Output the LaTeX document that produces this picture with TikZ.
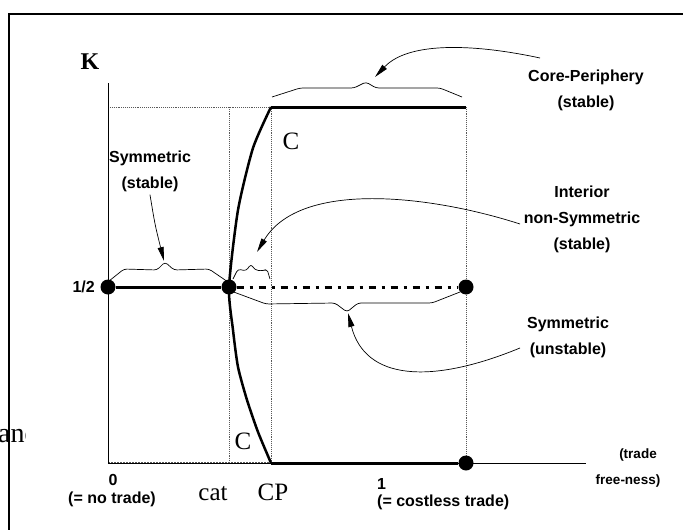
\documentclass[tikz,border=0pt]{standalone}
\usepackage{fontspec}
\setmainfont{Liberation Serif}
\setsansfont{Liberation Sans}
\usetikzlibrary{arrows.meta}

\begin{document}
\begin{tikzpicture}
  [x=1pt,y=-1pt,
   lbl/.style={font=\sffamily\bfseries\fontsize{16}{26}\selectfont,align=center,inner sep=0pt},
   small/.style={font=\sffamily\bfseries\fontsize{13.5}{16}\selectfont,inner sep=0pt},
   serif/.style={font=\fontsize{25}{28}\selectfont,inner sep=0pt},
   eq/.style={circle,fill=black,inner sep=0pt,minimum size=15pt},
   guide/.style={densely dotted,gray!70!black,line width=0.9pt},
   heavy/.style={line width=3pt},
   brace/.style={line width=0.7pt,rounded corners=3pt},
   pointer/.style={line width=0.7pt,-{Triangle[length=14pt,width=6pt]}}]
  \useasboundingbox (0,0) rectangle (683,530);

  % cropped word on the left
  \begin{scope}
    \clip (0,415) rectangle (25,450);
    \node[font=\fontsize{28}{30}\selectfont,inner sep=0pt,anchor=base west] (andtxt) at (-2,442) {and};
  \end{scope}

  % box corners
  \coordinate (ktop) at (108,83);
  \coordinate (o) at (108,463);
  \coordinate (tl) at (108,107);
  \coordinate (catb) at (229,463);
  \coordinate (catt) at (229,107);
  \coordinate (cpb) at (271,463);
  \coordinate (cpt) at (271,107);
  \coordinate (onet) at (466,107);
  \coordinate (xend) at (586,463);

  \foreach \from/\to in {tl/onet,catb/catt,cpb/cpt}
    \draw[guide] (\from) -- (\to);
  \draw[guide] (466,463) -- (onet);
  \draw[guide,line width=2pt] (o) -- (cpb);
  \draw[line width=0.8pt] (ktop) -- (o) -- (xend);

  % equilibria
  \node[eq] (half) at (108,287) {};
  \node[eq] (cat) at (229,287) {};
  \node[eq] (unst) at (466,287) {};
  \node[eq] (one) at (466,463) {};

  \draw[heavy] (half) -- (cat);
  \draw[heavy] (cpt) -- (onet);
  \draw[heavy] (cpb) -- (one);
  \draw[line width=3pt,dash pattern=on 7pt off 6pt on 3pt off 6pt] (cat) -- (unst);
  \draw[line width=2.5pt] plot[smooth,tension=0.4] coordinates
    {(271,107) (253,148) (238,210) (229,287) (233,330) (238,367) (247,400) (258,432) (271,463)};

  % braces
  \draw[brace] (109,281) -- (124,269) -- (157,270) -- (165,262) -- (174,270) -- (209,269) -- (228,282);
  \draw[brace] (233,279) -- (238,269) -- (246,271) -- (251,264) -- (255,270) -- (263,271) -- (267,269) -- (270,279);
  \draw[brace] (231,291) -- (266,304) -- (335,303) -- (347,312) -- (358,303) -- (432,303) -- (460,292);
  \draw[brace] (272,97) -- (300,88) -- (354,88) -- (366,82) -- (376,88) -- (440,88) -- (462,97);

  % labels
  \node[font=\bfseries\fontsize{24}{26}\selectfont,inner sep=0pt] (k) at (90,62) {K};
  \node[lbl,anchor=east] (halflbl) at (95,287) {1/2};
  \node[serif] (c1) at (291,141) {C};
  \node[serif] (c2) at (243,441) {C};
  \node[lbl] (symst) at (150,171) {Symmetric\\(stable)};
  \node[lbl] (cplbl) at (586,90) {Core-Periphery\\(stable)};
  \node[lbl] (intlbl) at (582,219) {Interior\\non-Symmetric\\(stable)};
  \node[lbl] (unstlbl) at (568,337) {Symmetric\\(unstable)};
  \node[lbl,anchor=base] (zero) at (113,485) {0};
  \node[lbl,anchor=base] (notrade) at (112,503) {(= no trade)};
  \node[serif,anchor=base] (catlbl) at (213,500) {cat};
  \node[serif,anchor=base] (cplbl2) at (273,500) {CP};
  \node[lbl,anchor=base west] (onelbl) at (377,489) {1};
  \node[lbl,anchor=base west] (costless) at (377,506) {(= costless trade)};
  \node[small] (trade) at (638,455) {(trade};
  \node[small] (freeness) at (628,481) {free-ness)};

  % pointers
  \coordinate (cptail) at (540,58);
  \coordinate (inttail) at (520,224);
  \coordinate (unsttail) at (520,348);
  \draw[pointer] (cptail) .. controls (480,45) and (410,40) .. (375,77);
  \draw[pointer] (inttail) .. controls (430,195) and (300,180) .. (257,252);
  \draw[pointer] (unsttail) .. controls (430,385) and (365,380) .. (348,313);
  \draw[pointer] (symst.south) ++(0,3) .. controls (155,225) .. (164,261);

  % frame
  \draw[line width=2.8pt] (9,530) -- (9,14) -- (683,14);
\end{tikzpicture}
\end{document}
